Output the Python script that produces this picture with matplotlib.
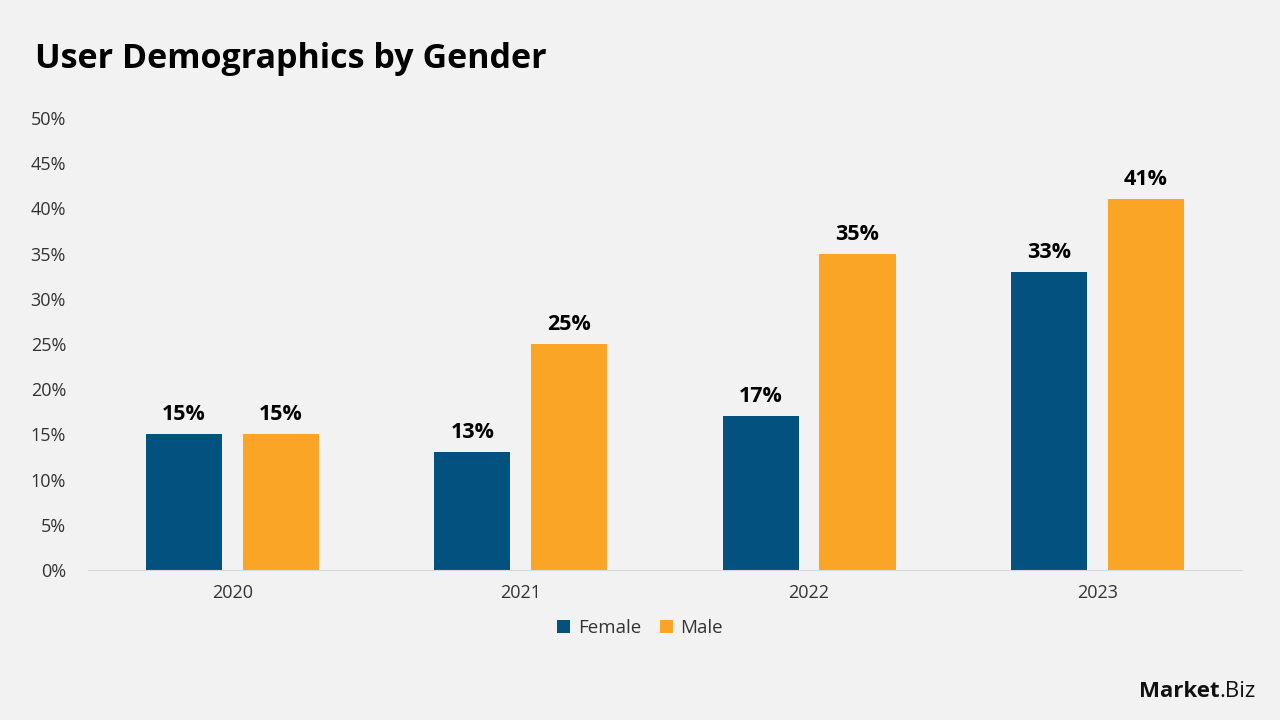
import matplotlib.pyplot as plt
import numpy as np

# Chart data
years = ['2020', '2021', '2022', '2023']
female = [15, 13, 17, 33]
male = [15, 25, 35, 41]

plt.rcParams['font.family'] = ['Open Sans', 'DejaVu Sans']

bg = '#f2f2f2'
blue = '#02517f'
orange = '#fba526'

fig = plt.figure(figsize=(12.8, 7.2), dpi=100, facecolor=bg)
ax = fig.add_axes([0.069, 0.2083, 0.901, 0.6278], facecolor=bg)

x = np.arange(len(years))
w = 0.264
off = 0.168
b1 = ax.bar(x - off, female, w, color=blue, label='Female')
b2 = ax.bar(x + off, male, w, color=orange, label='Male')

for bars in (b1, b2):
    for b in bars:
        ax.text(b.get_x() + b.get_width() / 2, b.get_height() + 1.0,
                f'{b.get_height():.0f}%', ha='center', va='bottom',
                fontsize=15.5, fontweight='bold', color='black')

ax.set_xlim(-0.5, 3.5)
ax.set_ylim(0, 50)
ax.set_yticks(range(0, 51, 5))
ax.set_yticklabels([f'{v}%' for v in range(0, 51, 5)])
ax.set_xticks(x)
ax.set_xticklabels(years)
ax.tick_params(axis='both', length=0, labelsize=13, colors='#333333')
ax.tick_params(axis='x', pad=10)
ax.tick_params(axis='y', pad=16)
for s in ('top', 'right', 'left'):
    ax.spines[s].set_visible(False)
ax.spines['bottom'].set_color('#d9d9d9')

fig.text(0.027, 0.918, 'User Demographics by Gender', fontsize=24.5,
         fontweight='bold', color='black', va='center')

fig.legend(loc='center', bbox_to_anchor=(0.5, 0.128), ncol=2, frameon=False,
           fontsize=13.5, handlelength=0.7, handleheight=0.7,
           handletextpad=0.4, columnspacing=1.0, labelcolor='#333333')

# logo
fig.text(0.953, 0.025, 'Market', fontsize=16, fontweight='bold',
         ha='right', va='bottom', color='#111111')
fig.text(0.953, 0.025, '.Biz', fontsize=16, ha='left', va='bottom',
         color='#111111')

fig.savefig('out.png', dpi=100, facecolor=bg)
